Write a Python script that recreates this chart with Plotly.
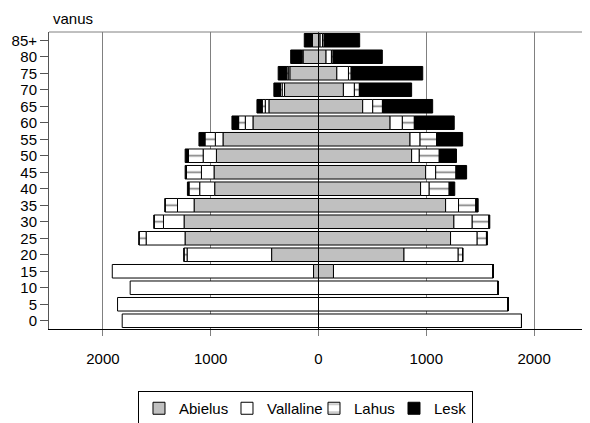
import plotly.graph_objects as go

ages = ["0", "5", "10", "15", "20", "25", "30", "35", "40", "45", "50", "55",
        "60", "65", "70", "75", "80", "85+"]

# Men (drawn to the left)
men_abielus = [0, 0, 0, 46, 435, 1238, 1247, 1154, 963, 969, 947, 886, 608, 460, 315, 266, 143, 56]
men_vallaline = [1821, 1864, 1747, 1867, 784, 361, 191, 154, 139, 117, 123, 71, 71, 34, 22, 15, 8, 4]
men_lahus = [0, 0, 0, 0, 28, 65, 86, 114, 99, 139, 136, 96, 62, 28, 15, 13, 8, 4]
men_lesk = [0, 0, 0, 0, 2, 2, 3, 3, 15, 12, 31, 56, 62, 49, 62, 80, 99, 68]

# Women (drawn to the right)
women_abielus = [0, 0, 0, 139, 793, 1225, 1256, 1179, 947, 994, 864, 849, 664, 410, 231, 170, 70, 15]
women_vallaline = [1883, 1759, 1667, 1481, 503, 247, 170, 120, 80, 93, 71, 93, 114, 93, 102, 108, 50, 22]
women_lahus = [0, 0, 0, 0, 40, 86, 154, 160, 185, 188, 185, 154, 111, 90, 46, 25, 15, 15]
women_lesk = [0, 0, 0, 0, 5, 9, 9, 22, 52, 99, 160, 241, 370, 466, 485, 664, 457, 330]

tick_vals = [-2000, -1000, 0, 1000, 2000]
tick_text = ["2000", "1000", "0", "1000", "2000"]

series = [
    ("Abielus", men_abielus, women_abielus, dict(color="#c0c0c0"), 43),
    ("Vallaline", men_vallaline, women_vallaline, dict(color="white"), 42),
    ("Lahus", men_lahus, women_lahus,
     dict(color="white", pattern=dict(shape="-", size=16.5, solidity=0.1,
                                      fgcolor="black", bgcolor="white", fillmode="overlay")), 35),
    ("Lesk", men_lesk, women_lesk, dict(color="black"), 33),
]

fig = go.Figure()
for name, men, women, mk, lw in series:
    for side, vals, show in (("m", men, False), ("w", women, True)):
        xs = [-v for v in vals] if side == "m" else list(vals)
        fig.add_trace(go.Bar(
            y=ages, x=xs, orientation="h", name=name, legendgroup=name,
            showlegend=show, legendwidth=lw,
            marker=dict(**mk, line=dict(color="black", width=1)),
            hoverinfo="skip",
        ))

fig.update_layout(
    width=582, height=415,
    margin=dict(l=41, r=2, t=24, b=94, autoexpand=False),
    barmode="relative", bargap=0.18,
    plot_bgcolor="white", paper_bgcolor="white",
    font=dict(family="Liberation Sans, Arial, sans-serif", size=15, color="black"),
    showlegend=True,
    legend=dict(orientation="h", x=0.1651, y=-0.2088, xanchor="left", yanchor="top",
                bordercolor="black", borderwidth=1, bgcolor="white",
                font=dict(size=15), itemwidth=30, traceorder="normal"),
    xaxis=dict(range=[-2500, 2500], tickmode="array", tickvals=tick_vals, ticktext=tick_text,
               showgrid=True, gridcolor="#808080", gridwidth=1,
               zeroline=True, zerolinecolor="black", zerolinewidth=1,
               ticks="outside", ticklen=6, tickcolor="#808080",
               showline=True, linecolor="black", linewidth=1, mirror=False,
               fixedrange=True, ticklabelstandoff=10, automargin=False),
    yaxis=dict(categoryorder="array", categoryarray=ages, type="category",
               tickmode="array", tickvals=ages, ticktext=ages,
               ticks="outside", ticklen=8, tickcolor="#555555",
               showline=True, linecolor="#555555", linewidth=1, mirror=True,
               showgrid=False, fixedrange=True, automargin=False),
    shapes=[dict(type="line", xref="paper", yref="paper", x0=0, x1=1, y0=1, y1=1,
                 line=dict(color="#808080", width=1))],
    annotations=[dict(text="vanus", x=0.0436, y=1.0438, xref="paper", yref="paper",
                      showarrow=False, xanchor="center", yanchor="middle",
                      font=dict(size=15))],
)

fig.write_html("out.html")
